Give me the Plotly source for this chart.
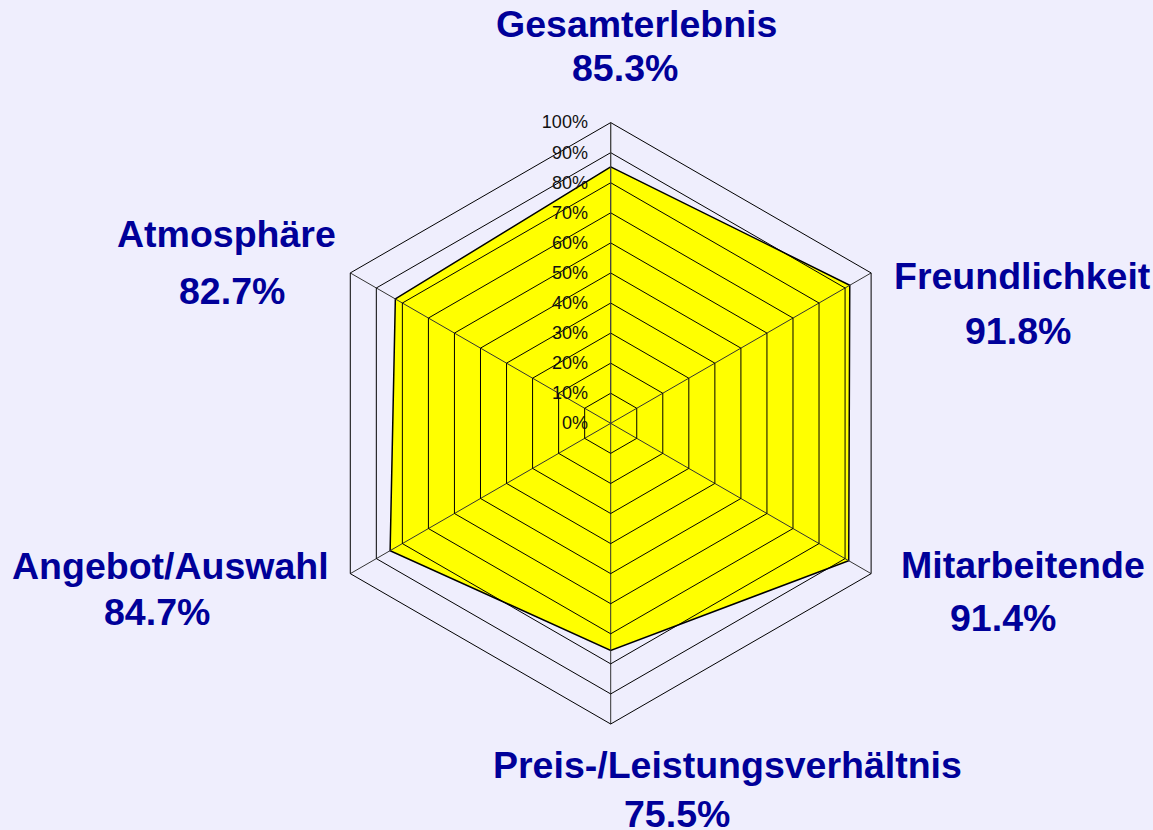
import plotly.graph_objects as go

categories = ["Gesamterlebnis", "Freundlichkeit", "Mitarbeitende",
              "Preis-/Leistungsverhältnis", "Angebot/Auswahl", "Atmosphäre"]
values = [85.3, 91.8, 91.4, 75.5, 84.7, 82.7]
tick_values = list(range(0, 101, 10))
tick_labels = [f"{v}%" for v in tick_values]

# label positions in pixels (name center, value center) for the 1153x830 canvas
W, H = 1153, 830
name_pos = [(636, 24), (1022, 276), (1023, 565), (727, 765), (170, 566), (226, 234)]
value_pos = [(625, 68), (1018, 331), (1003, 618), (677, 814), (157, 612), (232, 291)]

BLUE = "#000099"
BG = "#EFEEFD"

fig = go.Figure()
fig.add_trace(go.Scatterpolar(
    r=values + [values[0]],
    theta=categories + [categories[0]],
    mode="lines",
    fill="toself",
    fillcolor="#FFFF00",
    line=dict(color="black", width=1.5),
    hoverinfo="skip",
    subplot="polar",
))
# invisible trace to set up the overlay grid subplot
fig.add_trace(go.Scatterpolar(
    r=[None] * len(categories), theta=categories, mode="lines",
    hoverinfo="skip", subplot="polar2",
))

cx, cy, R = 610.7, 423.3, 300.7
dom = dict(x=[(cx - R) / W, (cx + R) / W], y=[1 - (cy + R) / H, 1 - (cy - R) / H])

fig.update_layout(
    width=W, height=H,
    margin=dict(l=0, r=0, t=0, b=0),
    paper_bgcolor=BG, plot_bgcolor=BG,
    showlegend=False,
    polar=dict(
        bgcolor=BG, gridshape="linear", domain=dom,
        radialaxis=dict(range=[0, 100], showgrid=False, showline=False,
                        showticklabels=False, ticks=""),
        angularaxis=dict(rotation=90, direction="clockwise", categoryarray=categories,
                         showgrid=False, showline=False, showticklabels=False, ticks=""),
    ),
    polar2=dict(
        bgcolor="rgba(0,0,0,0)", gridshape="linear", domain=dom,
        radialaxis=dict(
            range=[0, 100], tickvals=tick_values, ticktext=tick_labels,
            angle=90, tickangle=90, side="counterclockwise",
            ticks="outside", ticklen=16, tickcolor="rgba(0,0,0,0)",
            showline=True, linecolor="#444", linewidth=1,
            gridcolor="black", gridwidth=1,
            tickfont=dict(family="Arial, Liberation Sans", size=18, color="#111"),
        ),
        angularaxis=dict(
            rotation=90, direction="clockwise", categoryarray=categories,
            showticklabels=False, ticks="",
            showline=True, linecolor="black", linewidth=1,
            gridcolor="#333", gridwidth=1,
        ),
    ),
)

for name, val, (nx, ny), (vx, vy) in zip(categories, values, name_pos, value_pos):
    for text, (px, py) in ((f"<b>{name}</b>", (nx, ny)), (f"<b>{val:.1f}%</b>", (vx, vy))):
        fig.add_annotation(
            x=px / W, y=1 - py / H, xref="paper", yref="paper",
            xanchor="center", yanchor="middle", showarrow=False,
            text=text, font=dict(family="Arial, Liberation Sans", size=37.5, color=BLUE),
        )

fig.write_html("out.html", config={"displayModeBar": False},
               post_script="document.body.style.margin='0';document.body.style.overflow='hidden';")
